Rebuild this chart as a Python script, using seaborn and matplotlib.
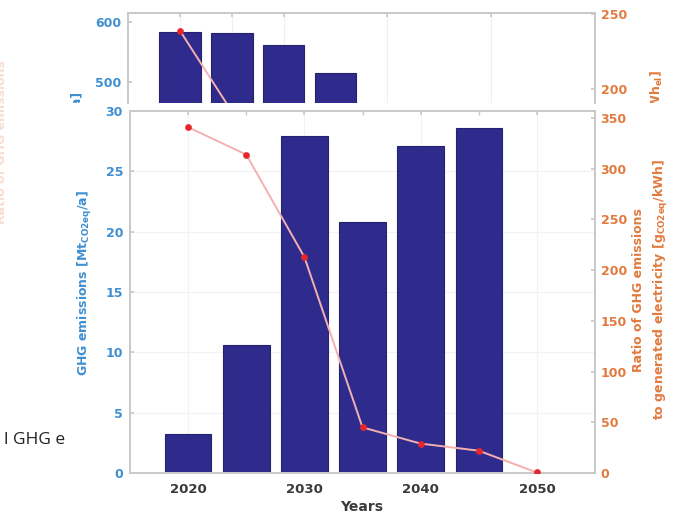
import numpy as np
import pandas as pd
import matplotlib
matplotlib.use('Agg')
import matplotlib.pyplot as plt
import seaborn as sns
from matplotlib.transforms import Bbox, TransformedBbox

# main (lower) panel
years = [2020, 2025, 2030, 2035, 2040, 2045]
ghg = [3.2, 10.6, 27.9, 20.8, 27.1, 28.6]
ratio_years = [2020, 2025, 2030, 2035, 2040, 2045, 2050]
ratio = [341, 314, 213, 45, 29, 22, 0.5]

# cropped upper panel
top_years = [2020, 2025, 2030, 2035]
top_bars = [583, 582, 561, 515]
top_ratio_years = [2020, 2025]
top_ratio = [239, 185]

BAR = '#2e2b8c'
BLUE = '#3f8fd2'
ORANGE = '#e27a3e'
RED = '#e8262a'
PINK = '#f4b0b0'
SPINE = '#c9c9c9'

sns.set_theme(style="white")
plt.rcParams['font.family'] = ['DejaVu Sans']

W, H = 677, 515
fig = plt.figure(figsize=(W / 100, H / 100), dpi=100)

def px(x0, y0, x1, y1):
    # pixel box (top-left origin) -> figure fraction rect
    return [x0 / W, 1 - y1 / H, (x1 - x0) / W, (y1 - y0) / H]

# ---------- upper panel ----------
axt = fig.add_axes(px(128, 13, 595, 103))
sns.barplot(x=top_years, y=top_bars, native_scale=True, width=0.8, color=BAR,
            saturation=1, edgecolor='#24226e', linewidth=0.8, ax=axt)
axt.set_xlim(2015, 2060)
axt.set_ylim(465, 615)
axt.set_yticks([500, 600])
axt.set_xticks([2020, 2025, 2030, 2040, 2050])
axt.xaxis.grid(True, color='#efefef', lw=0.8)
axt.set_axisbelow(True)
axt.tick_params(axis='x', bottom=False, labelbottom=False, top=True, direction='in',
                length=3, color=SPINE)
axt.tick_params(axis='y', direction='in', length=3, color=SPINE, colors=BLUE,
                labelsize=9, pad=5)
for lab in axt.get_yticklabels():
    lab.set_fontweight('bold')
axt.spines['bottom'].set_visible(False)
for s in ['top', 'left', 'right']:
    axt.spines[s].set_color(SPINE)
axt.set_xlabel('')

axt2 = axt.twinx()
sns.lineplot(x=top_ratio_years, y=top_ratio, color=PINK, lw=1.4, ax=axt2)
sns.scatterplot(x=top_ratio_years, y=top_ratio, color=RED, s=20, edgecolor=RED, ax=axt2, zorder=5)
axt2.set_ylim(190.7, 250.7)
axt2.set_yticks([200, 250])
axt2.tick_params(axis='y', direction='in', length=3, color=SPINE, colors=ORANGE,
                 labelsize=9, pad=4)
for lab in axt2.get_yticklabels():
    lab.set_fontweight('bold')
axt2.spines['bottom'].set_visible(False)
for s in ['top', 'left', 'right']:
    axt2.spines[s].set_color(SPINE)

# ---------- lower panel ----------
ax = fig.add_axes(px(130, 111, 595, 473))
sns.barplot(x=years, y=ghg, native_scale=True, width=0.8, color=BAR,
            saturation=1, edgecolor='#24226e', linewidth=0.8, ax=ax)
ax.set_xlim(2015, 2055)
ax.set_ylim(0, 30)
ax.set_yticks(range(0, 31, 5))
ax.set_xticks([2020, 2030, 2040, 2050])
ax.set_xticks([2025, 2035, 2045], minor=True)
ax.grid(True, color='#f2f2f2', lw=0.8)
ax.set_axisbelow(True)
ax.tick_params(axis='x', which='both', direction='in', top=True, length=3, color=SPINE,
               colors='#3a3a3a', labelsize=9.5, pad=7)
ax.tick_params(axis='y', direction='in', length=3, color=SPINE, colors=BLUE,
               labelsize=9, pad=5)
for lab in ax.get_xticklabels() + ax.get_yticklabels():
    lab.set_fontweight('bold')
for s in ax.spines.values():
    s.set_color(SPINE)
ax.spines['bottom'].set_color('#ecd2d2')
ax.set_xlabel('')

ax2 = ax.twinx()
sns.lineplot(x=ratio_years, y=ratio, color=PINK, lw=1.4, ax=ax2)
sns.scatterplot(x=ratio_years, y=ratio, color=RED, s=20, edgecolor=RED, ax=ax2, zorder=5)
ax2.set_ylim(0, 357)
ax2.set_yticks(range(0, 351, 50))
ax2.tick_params(axis='y', direction='in', length=3, color=SPINE, colors=ORANGE,
                labelsize=9, pad=4)
for lab in ax2.get_yticklabels():
    lab.set_fontweight('bold')
for s in ax2.spines.values():
    s.set_color(SPINE)

# axis titles
fig.text(85 / W, 1 - 283 / H, 'GHG emissions [Mt$_{\\mathregular{CO2eq}}$/a]', rotation=90,
         ha='center', va='center', color=BLUE, fontsize=9, fontweight='bold')
fig.text(651 / W, 1 - 290 / H,
         'Ratio of GHG emissions\nto generated electricity [g$_{\\mathregular{CO2eq}}$/kWh]',
         rotation=90, ha='center', va='center', color=ORANGE, fontsize=9,
         fontweight='bold', linespacing=1.6)
fig.text(362 / W, 1 - 507 / H, 'Years', ha='center', va='center', color='#3a3a3a',
         fontsize=10, fontweight='bold')

# cut-off labels of the upper panel
clip = TransformedBbox(Bbox([[0, 1 - 103 / H], [1, 1]]), fig.transFigure)
t1 = fig.text(76 / W, 1 - 90 / H, '[TWh/a]', rotation=90,
              ha='center', va='top', color=BLUE, fontsize=9, fontweight='bold')
t2 = fig.text(657 / W, 1 - 70 / H, '[TWh$_{\\mathregular{el}}$]',
              rotation=90, ha='center', va='top', color=ORANGE, fontsize=9,
              fontweight='bold')
for t in (t1, t2):
    t.set_clip_on(True)
    t.set_clip_box(clip)

# fragments at the left edge
fig.text(2 / W, 1 - 60 / H, 'Ratio of GHG emissions', rotation=90, ha='center', va='top',
         color=ORANGE, alpha=0.25, fontsize=9, fontweight='bold')
fig.text(4 / W, 1 - 440 / H, 'l GHG e', ha='left', va='center', color='#222222',
         fontsize=12.5, family=['Open Sans', 'DejaVu Sans'])

fig.savefig('out.png', dpi=100)
